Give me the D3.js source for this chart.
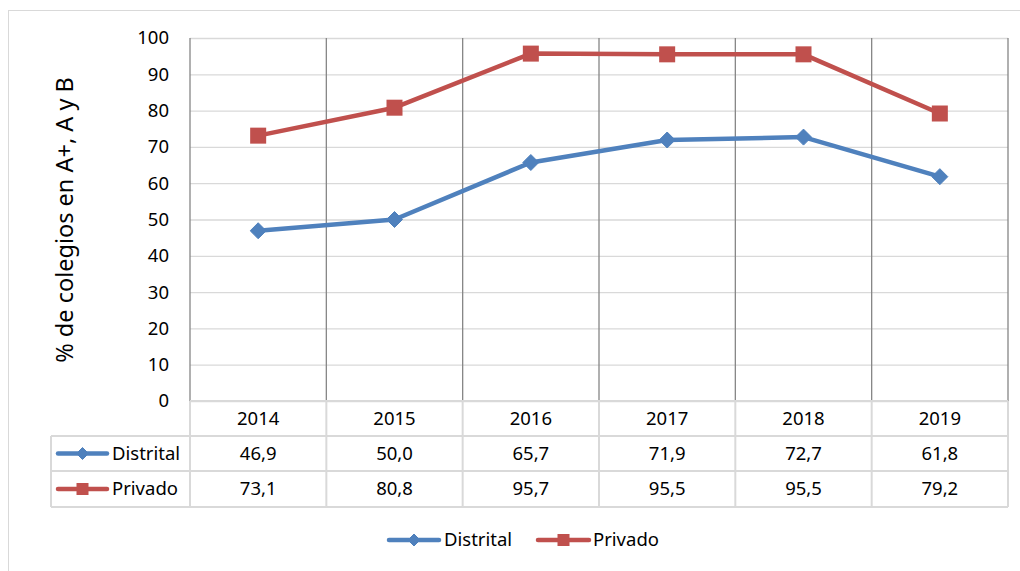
<!DOCTYPE html>
<html>
<head>
<meta charset="utf-8">
<script src="https://cdn.jsdelivr.net/npm/d3@7"></script>
<style>
  body { margin: 0; background: #fff; }
  svg { display: block; font-family: "Noto Sans", Lato, sans-serif; }
</style>
</head>
<body>
<svg id="canvas" width="1020" height="571"></svg>
<script>
// chart data
let years = ['2014', '2015', '2016', '2017', '2018', '2019']
let distrital = [46.9, 50.0, 65.7, 71.9, 72.7, 61.8]
let privado = [73.1, 80.8, 95.7, 95.5, 95.5, 79.2]
let yTicks = [0, 10, 20, 30, 40, 50, 60, 70, 80, 90, 100]
let seriesNames = ['Distrital', 'Privado']

let blue = '#4f81bd'
let red = '#c0504d'
let fontSize = 18.5

let svg = d3.select('#canvas')

// outer chart border
svg.append('rect')
    .attr('x', 8.5).attr('y', 10.5)
    .attr('width', 1040).attr('height', 600)
    .attr('fill', 'none')
    .attr('stroke', '#d9d9d9')

let plotLeft = 190, plotRight = 1008, plotTop = 38, plotBottom = 401

let x = d3.scaleBand().domain(years).range([plotLeft, plotRight])
let y = d3.scaleLinear().domain([0, 100]).range([plotBottom, plotTop])

// horizontal grid
svg.selectAll('.hgrid')
    .data(yTicks)
    .enter()
    .append('line')
    .attr('x1', plotLeft).attr('x2', plotRight)
    .attr('y1', (d) => y(d) + 0.5).attr('y2', (d) => y(d) + 0.5)
    .attr('stroke', '#d9d9d9')
    .attr('stroke-width', 1.3)

// vertical grid at category borders
let borders = years.map((d) => x(d)).concat([plotRight])
svg.selectAll('.vgrid')
    .data(borders)
    .enter()
    .append('line')
    .attr('x1', (d) => d).attr('x2', (d) => d)
    .attr('y1', plotTop).attr('y2', plotBottom)
    .attr('stroke', '#868686')
    .attr('stroke-width', 1.3)

// y tick labels
svg.selectAll('.ytick')
    .data(yTicks)
    .enter()
    .append('text')
    .attr('x', 169)
    .attr('y', (d) => y(d))
    .attr('dy', '0.35em')
    .attr('text-anchor', 'end')
    .attr('font-size', fontSize)
    .attr('fill', '#000')
    .text((d) => d)

// y axis title
svg.append('text')
    .attr('transform', 'translate(73,220) rotate(-90)')
    .attr('text-anchor', 'middle')
    .attr('font-size', 23.5)
    .attr('fill', '#000')
    .text('% de colegios en A+, A y B')

// data table
let rowY = [401, 436, 471, 507]
let tableColor = '#d9d9d9'
svg.append('line').attr('x1', plotLeft).attr('x2', plotRight).attr('y1', rowY[0]).attr('y2', rowY[0])
    .attr('stroke', tableColor).attr('stroke-width', 2)
for (let i = 1; i < rowY.length; i++) {
    svg.append('line').attr('x1', 51).attr('x2', plotRight).attr('y1', rowY[i]).attr('y2', rowY[i])
        .attr('stroke', tableColor).attr('stroke-width', 2)
}
svg.selectAll('.tvline')
    .data(borders)
    .enter()
    .append('line')
    .attr('x1', (d) => d).attr('x2', (d) => d)
    .attr('y1', rowY[0]).attr('y2', rowY[3])
    .attr('stroke', tableColor).attr('stroke-width', 2)
svg.append('line').attr('x1', 51).attr('x2', 51).attr('y1', rowY[1]).attr('y2', rowY[3])
    .attr('stroke', tableColor).attr('stroke-width', 2)

let fmt = (v) => v.toFixed(1).replace('.', ',')

svg.selectAll('.yearlab')
    .data(years)
    .enter()
    .append('text')
    .attr('x', (d) => x(d) + x.bandwidth() / 2)
    .attr('y', (rowY[0] + rowY[1]) / 2)
    .attr('dy', '0.35em')
    .attr('text-anchor', 'middle')
    .attr('font-size', fontSize)
    .text((d) => d)

let rows = [distrital, privado]
rows.forEach((vals, r) => {
    svg.selectAll('.cell' + r)
        .data(vals)
        .enter()
        .append('text')
        .attr('x', (d, i) => x(years[i]) + x.bandwidth() / 2)
        .attr('y', (rowY[r + 1] + rowY[r + 2]) / 2)
        .attr('dy', '0.35em')
        .attr('text-anchor', 'middle')
        .attr('font-size', fontSize)
        .text((d) => fmt(d))
})

// marker helpers
let drawMarker = (g, cx, cy, kind, color, s) => {
    if (kind === 'diamond') {
        g.append('path')
            .attr('d', `M${cx},${cy - s}L${cx + s},${cy}L${cx},${cy + s}L${cx - s},${cy}Z`)
            .attr('fill', color).attr('stroke', color).attr('stroke-width', 1)
    } else {
        g.append('rect')
            .attr('x', cx - s).attr('y', cy - s)
            .attr('width', 2 * s).attr('height', 2 * s)
            .attr('fill', color)
    }
}

let drawKey = (x0, x1, cy, kind, color, s) => {
    let g = svg.append('g')
    g.append('line')
        .attr('x1', x0).attr('x2', x1).attr('y1', cy).attr('y2', cy)
        .attr('stroke', color).attr('stroke-width', 4.5).attr('stroke-linecap', 'round')
    drawMarker(g, (x0 + x1) / 2, cy, kind, color, s)
}

// table keys
drawKey(58, 107, (rowY[1] + rowY[2]) / 2, 'diamond', blue, 6)
drawKey(58, 107, (rowY[2] + rowY[3]) / 2, 'square', red, 6)
svg.append('text').attr('x', 112).attr('y', (rowY[1] + rowY[2]) / 2).attr('dy', '0.35em')
    .attr('font-size', fontSize).text(seriesNames[0])
svg.append('text').attr('x', 112).attr('y', (rowY[2] + rowY[3]) / 2).attr('dy', '0.35em')
    .attr('font-size', fontSize).text(seriesNames[1])

// series lines
let line = d3.line()
    .x((d, i) => x(years[i]) + x.bandwidth() / 2)
    .y((d) => y(d))

let series = [
    { vals: distrital, color: blue, kind: 'diamond', size: 8 },
    { vals: privado, color: red, kind: 'square', size: 8 }
]

series.forEach((s) => {
    svg.append('path')
        .datum(s.vals)
        .attr('d', line)
        .attr('fill', 'none')
        .attr('stroke', s.color)
        .attr('stroke-width', 4.5)
        .attr('stroke-linejoin', 'round')
    let g = svg.append('g')
    s.vals.forEach((v, i) => {
        drawMarker(g, x(years[i]) + x.bandwidth() / 2, y(v), s.kind, s.color, s.size)
    })
})

// legend
drawKey(389, 439, 540, 'diamond', blue, 6)
svg.append('text').attr('x', 444).attr('y', 540).attr('dy', '0.35em')
    .attr('font-size', fontSize).text(seriesNames[0])
drawKey(538, 589, 540, 'square', red, 6)
svg.append('text').attr('x', 593).attr('y', 540).attr('dy', '0.35em')
    .attr('font-size', fontSize).text(seriesNames[1])
</script>
</body>
</html>
